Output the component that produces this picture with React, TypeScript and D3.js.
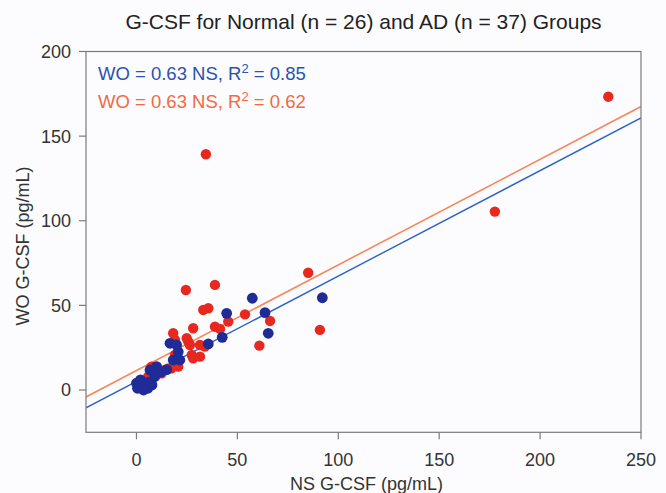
import React from "react";
import * as d3 from "d3";

const title = "G-CSF for Normal (n = 26) and AD (n = 37) Groups";
const xLabel = "NS G-CSF (pg/mL)";
const yLabel = "WO G-CSF (pg/mL)";
const xTicks = [0, 50, 100, 150, 200, 250];
const yTicks = [0, 50, 100, 150, 200];

// Normal group (blue)
const normalX = [57.4, 92.1, 44.7, 63.7, 65.3, 42.5, 35.6, 16.6, 19.9, 20.7, 18.2, 21.5, 10, 6.7, 0, 0.5, 3.5, 5.7, 7.7, 2, 4, 12, 15, 9, 1, 6];
const normalY = [54.2, 54.5, 45.3, 45.7, 33.5, 31.1, 27.2, 27.6, 26.6, 22.6, 17.7, 17.7, 13.8, 11.8, 4, 1, 0, 1, 3, 6, 2.5, 10.5, 12, 8, 2, 4.5];

// AD group (red)
const adX = [233.8, 177.6, 34.4, 85.1, 90.9, 24.5, 38.9, 33.1, 35.6, 53.8, 45.5, 66.2, 38.9, 41.4, 60.9, 31.5, 33.9, 28.1, 18.2, 19.1, 24.9, 26.5, 19.1, 20.7, 27.4, 28.1, 14.1, 15.8, 17.4, 20.7, 7.5, 9.2, 12.5, 4.2, 31.5, 25.7, 5.8];
const adY = [173.3, 105.4, 139.3, 69.3, 35.5, 59.1, 62.1, 47.3, 48.3, 44.7, 40.4, 40.8, 37.4, 36.1, 26.2, 26.6, 25.6, 36.5, 33.5, 29.6, 30.6, 26.6, 20.7, 18.7, 20.7, 18.7, 11.8, 12.8, 12.8, 13.8, 13.8, 7.9, 9.9, 4.0, 19.7, 28.5, 7.9];

// Regression fits [slope, intercept]
const normalFit = [0.623, 5.0];
const adFit = [0.624, 11.5];
const legendLabels = ["WO = 0.63 NS, R", " = 0.85", " = 0.62"];

const W = 666;
const H = 493;
const left = 86;
const right = 641;
const top = 51.5;
const bottom = 432.3;

const BLUE_PT = "#1f2c97";
const RED_PT = "#e8281e";
const BLUE_LINE = "#2a62c9";
const ORANGE_LINE = "#f7875c";
const BLUE_TXT = "#2a52b2";
const ORANGE_TXT = "#f26a42";
const FONT = "Liberation Sans, Arial, sans-serif";

export default function App() {
  const x = d3.scaleLinear().domain([-25, 250]).range([left, right]);
  const y = d3.scaleLinear().domain([-25, 200]).range([bottom, top]);
  const fitLine = (fit: number[]) =>
    d3
      .line<number>()
      .x((d) => x(d))
      .y((d) => y(fit[0] * d + fit[1]))(x.domain());

  const normal = normalX.map((v, i) => [v, normalY[i]]);
  const ad = adX.map((v, i) => [v, adY[i]]);

  return (
    <div style={{ position: "fixed", left: 0, top: 0 }}>
      <svg width={W} height={H} style={{ display: "block" }} fontFamily={FONT}>
        <rect x={0} y={0} width={W} height={H} fill="#fcfcfe" />
        <text x={(left + right) / 2} y={29} textAnchor="middle" fontSize={21} fill="#222">
          {title}
        </text>
        <clipPath id="clip">
          <rect x={left} y={top} width={right - left} height={bottom - top} />
        </clipPath>
        <g clipPath="url(#clip)">
          <path d={fitLine(adFit) || ""} stroke={ORANGE_LINE} strokeWidth={1.6} fill="none" />
          <path d={fitLine(normalFit) || ""} stroke={BLUE_LINE} strokeWidth={1.4} fill="none" />
          {ad.map((p, i) => (
            <circle key={"a" + i} cx={x(p[0])} cy={y(p[1])} r={5.2} fill={RED_PT} />
          ))}
          {normal.map((p, i) => (
            <circle key={"n" + i} cx={x(p[0])} cy={y(p[1])} r={5.4} fill={BLUE_PT} />
          ))}
        </g>
        <rect x={left} y={top} width={right - left} height={bottom - top} fill="none" stroke="#7a7a7a" strokeWidth={1.2} />
        {yTicks.map((t) => (
          <g key={"y" + t}>
            <line x1={left - 7} x2={left} y1={y(t)} y2={y(t)} stroke="#7a7a7a" strokeWidth={1.2} />
            <text x={left - 15} y={y(t) + 6.5} textAnchor="end" fontSize={18} fill="#333">
              {t}
            </text>
          </g>
        ))}
        {xTicks.map((t) => (
          <g key={"x" + t}>
            <line x1={x(t)} x2={x(t)} y1={bottom} y2={bottom + 7} stroke="#7a7a7a" strokeWidth={1.2} />
            <text x={x(t)} y={bottom + 34} textAnchor="middle" fontSize={18} fill="#333">
              {t}
            </text>
          </g>
        ))}
        <text x={(left + right) / 2 + 3} y={490} textAnchor="middle" fontSize={18} fill="#333">
          {xLabel}
        </text>
        <text
          transform={`translate(29, 246) rotate(-90)`}
          textAnchor="middle"
          fontSize={18}
          fill="#333"
        >
          {yLabel}
        </text>
        <text x={98} y={80} fontSize={18.5} fill={BLUE_TXT}>
          {legendLabels[0]}
          <tspan dy={-7} fontSize={13}>2</tspan>
          <tspan dy={7}>{legendLabels[1]}</tspan>
        </text>
        <text x={98} y={108} fontSize={18.5} fill={ORANGE_TXT}>
          {legendLabels[0]}
          <tspan dy={-7} fontSize={13}>2</tspan>
          <tspan dy={7}>{legendLabels[2]}</tspan>
        </text>
      </svg>
    </div>
  );
}
